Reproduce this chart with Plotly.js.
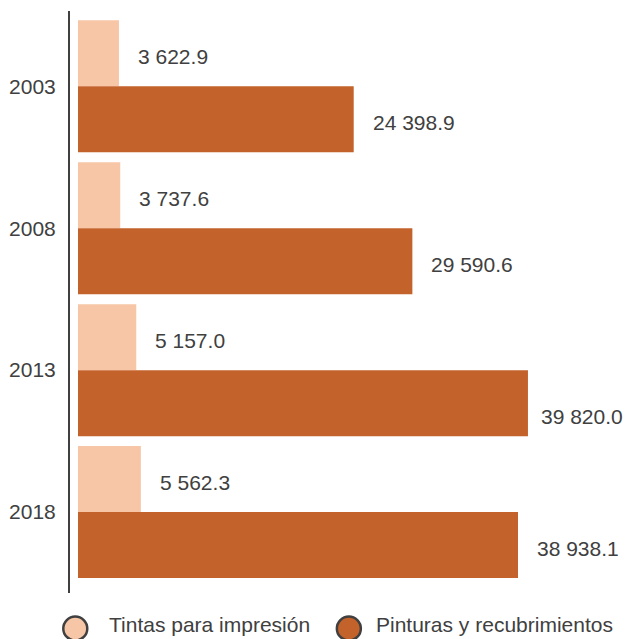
<!DOCTYPE html>
<html>
<head>
<meta charset="utf-8">
<script src="https://cdn.plot.ly/plotly-3.0.1.min.js"></script>
<style>html,body{margin:0;padding:0;background:#fff;}#chart{width:625px;height:639px;}</style>
</head>
<body>
<div id="chart"></div>
<script>
const years = ["2003", "2008", "2013", "2018"];
const seriesNames = ["Tintas para impresión", "Pinturas y recubrimientos"];
const tintas = [3622.9, 3737.6, 5157.0, 5562.3];
const pinturas = [24398.9, 29590.6, 39820.0, 38938.1];
const colors = ["#F6C6A7", "#C3622A"];

const textColor = "#404040";
const fontFam = "Liberation Sans, Arial, sans-serif";
const fontSize = 21;
const bargap = 0.07;

function fmt(v) {
  const s = v.toFixed(1);
  const parts = s.split(".");
  const intPart = parts[0].replace(/\B(?=(\d{3})+(?!\d))/g, " ");
  return intPart + "." + parts[1];
}

const traces = [
  {type: "bar", orientation: "h", y: years, x: tintas, name: seriesNames[0],
   marker: {color: colors[0]}, showlegend: false, hoverinfo: "none"},
  {type: "bar", orientation: "h", y: years, x: pinturas, name: seriesNames[1],
   marker: {color: colors[1]}, showlegend: false, hoverinfo: "none"}
];

const w = (1 - bargap) / 2;
const maxVal = Math.max(...tintas, ...pinturas);
const annotations = [];
[tintas, pinturas].forEach((arr, s) => {
  arr.forEach((v, i) => {
    const isMax = v === maxVal; // label near the right edge: nudged in and down
    annotations.push({
      x: v, y: i + (s === 0 ? -w / 2 : w / 2), xref: "x", yref: "y",
      text: fmt(v), showarrow: false, xanchor: "left", yanchor: "middle",
      xshift: isMax ? 11 : 17, yshift: isMax ? -13 : -3,
      font: {size: fontSize, color: textColor, family: fontFam}
    });
  });
});

// custom legend (large circle markers)
const legendCircleX = [0.0096, 0.507];
const legendTextX = [0.0673, 0.5527];
const legendY = -0.061;
const shapes = [];
seriesNames.forEach((n, s) => {
  shapes.push({
    type: "circle", xref: "paper", yref: "paper",
    xsizemode: "pixel", ysizemode: "pixel",
    xanchor: legendCircleX[s], yanchor: legendY,
    x0: -12, x1: 12, y0: -12, y1: 12,
    fillcolor: colors[s], line: {color: textColor, width: 2.5}
  });
  annotations.push({
    x: legendTextX[s], y: -0.060, xref: "paper", yref: "paper",
    text: n, showarrow: false, xanchor: "left", yanchor: "middle", yshift: 3,
    font: {size: fontSize, color: textColor, family: fontFam}
  });
});

const layout = {
  width: 625, height: 639,
  margin: {l: 70, r: 5, t: 11, b: 46, autoexpand: false},
  paper_bgcolor: "#fff", plot_bgcolor: "#fff",
  barmode: "group", bargap: bargap, bargroupgap: 0,
  font: {family: fontFam, color: textColor, size: fontSize},
  xaxis: {range: [-708, 47965], showgrid: false, zeroline: false, showticklabels: false,
          showline: false, ticks: "", fixedrange: true},
  yaxis: {type: "category", range: [3.57, -0.53], showgrid: false, zeroline: false,
          showline: true, linecolor: "#404040", linewidth: 2, ticks: "", ticklabelstandoff: 8,
          tickfont: {size: fontSize, color: textColor, family: fontFam}},
  showlegend: false,
  shapes: shapes,
  annotations: annotations
};

Plotly.newPlot("chart", traces, layout, {displayModeBar: false, staticPlot: true});
</script>
</body>
</html>
